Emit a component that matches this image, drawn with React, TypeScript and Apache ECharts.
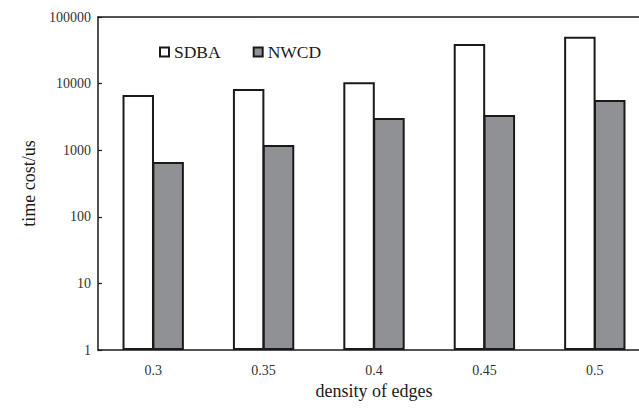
import React, { useEffect, useRef } from "react";
import * as echarts from "echarts";

const categories = ["0.3", "0.35", "0.4", "0.45", "0.5"];
const sdba = [6750, 8300, 10500, 39300, 50500];
const nwcd = [665, 1200, 3040, 3380, 5650];
const seriesNames = ["SDBA", "NWCD"];

export default function App() {
  const ref = useRef<HTMLDivElement>(null);
  useEffect(() => {
    if (!ref.current) return;
    const chart = echarts.init(ref.current, null, { renderer: "svg" });
    const font = "'Liberation Serif', 'Times New Roman', serif";
    chart.setOption({
      animation: false,
      backgroundColor: "#ffffff",
      textStyle: { fontFamily: font },
      grid: { left: 98, top: 17, bottom: 59, right: 50, show: false },
      legend: {
        left: 159, top: 43, padding: 0, itemWidth: 9, itemHeight: 9, itemGap: 32, icon: "rect",
        textStyle: { fontFamily: font, fontSize: 17.5, color: "#1a1a1a" },
        data: [
          { name: seriesNames[0], itemStyle: { color: "#ffffff", borderColor: "#1a1a1a", borderWidth: 2 } },
          { name: seriesNames[1], itemStyle: { color: "#909195", borderColor: "#1a1a1a", borderWidth: 2 } },
        ],
      },
      xAxis: [
        {
          type: "category", data: categories, boundaryGap: true,
          name: "density of edges", nameLocation: "middle", nameGap: 28,
          nameTextStyle: { fontFamily: font, fontSize: 18, color: "#1a1a1a" },
          axisLine: { lineStyle: { color: "#1a1a1a", width: 1.5 } },
          axisTick: { inside: true, length: 4, lineStyle: { color: "#1a1a1a", width: 1.2 } },
          axisLabel: { fontFamily: font, fontSize: 14, color: "#333", margin: 13 },
          splitLine: { show: false },
        },
        {
          type: "category", data: categories, position: "top",
          axisLine: { show: true, lineStyle: { color: "#1a1a1a", width: 1.5 } },
          axisTick: { show: false }, axisLabel: { show: false }, splitLine: { show: false },
        },
      ],
      yAxis: {
        type: "log", logBase: 10, min: 1, max: 100000,
        name: "time cost/us", nameLocation: "middle", nameGap: 58,
        nameTextStyle: { fontFamily: font, fontSize: 18, color: "#1a1a1a" },
        axisLine: { show: true, lineStyle: { color: "#1a1a1a", width: 1.5 } },
        axisTick: { show: true, inside: true, length: 4, lineStyle: { color: "#1a1a1a", width: 1.2 } },
        axisLabel: { fontFamily: font, fontSize: 14, color: "#333", margin: 7, formatter: (v: number) => String(Math.round(v)) },
        splitLine: { show: false },
      },
      series: [
        { name: seriesNames[0], type: "bar", data: sdba, barWidth: "28.5%", barGap: "-5%",
          itemStyle: { color: "#ffffff", borderColor: "#1a1a1a", borderWidth: 2 } },
        { name: seriesNames[1], type: "bar", data: nwcd, barWidth: "28.5%", barGap: "-5%",
          itemStyle: { color: "#909195", borderColor: "#1a1a1a", borderWidth: 2 } },
      ],
    });
    return () => chart.dispose();
  }, []);
  return (
    <div style={{ width: 639, height: 409, position: "absolute", left: 0, top: 0, overflow: "hidden", background: "#fff" }}>
      <div ref={ref} style={{ width: 700, height: 409, position: "absolute", left: 0, top: 0 }} />
    </div>
  );
}
